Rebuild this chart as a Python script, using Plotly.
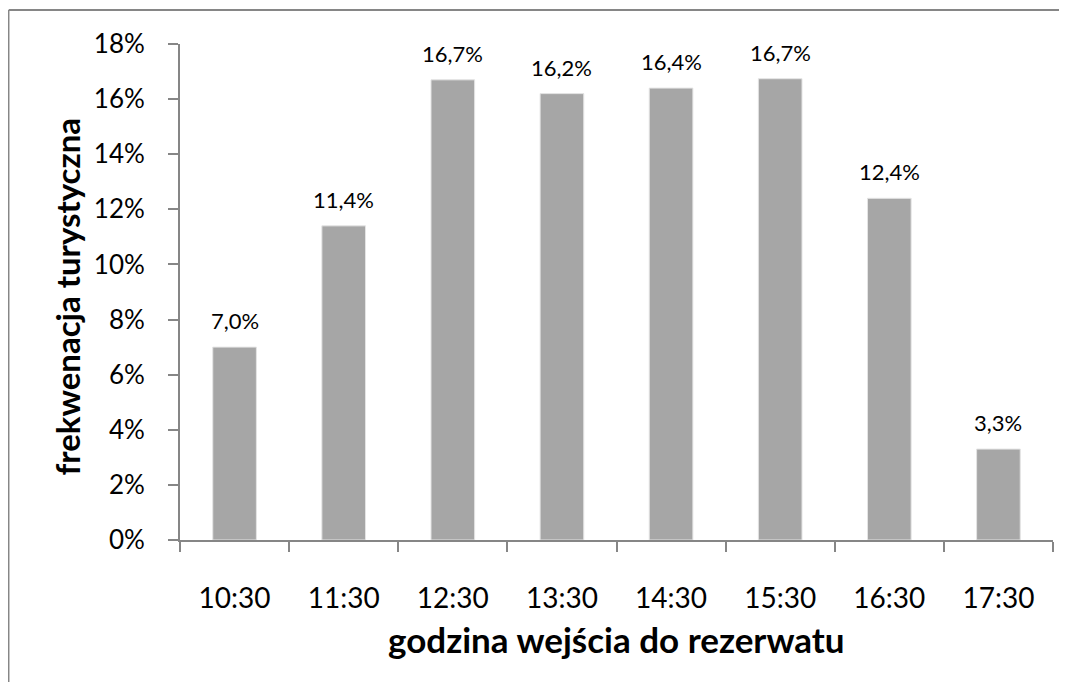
import plotly.graph_objects as go

# Data
godziny = ["10:30", "11:30", "12:30", "13:30", "14:30", "15:30", "16:30", "17:30"]
frekwencja = [7.0, 11.4, 16.7, 16.2, 16.4, 16.74, 12.4, 3.3]
y_ticks = [0, 2, 4, 6, 8, 10, 12, 14, 16, 18]
y_tick_labels = [f"{v}%" for v in y_ticks]
x_title = "godzina wejścia do rezerwatu"
y_title = "frekwenacja turystyczna"

FONT = "Lato, Carlito, Calibri, sans-serif"
AXIS_GRAY = "#868686"

fig = go.Figure()

fig.add_trace(go.Bar(
    x=godziny,
    y=frekwencja,
    width=0.4,
    marker=dict(color="#a6a6a6", line=dict(color="#e4e4e4", width=1)),
    hoverinfo="x+y",
))

# Data labels above the bars
for g, v in zip(godziny, frekwencja):
    fig.add_annotation(
        x=g, y=v, xref="x", yref="y",
        text=f"{v:.1f}".replace(".", ",") + "%",
        showarrow=False, yanchor="bottom", yshift=11,
        font=dict(family=FONT, size=22, color="#000000"),
    )

# Axis titles
fig.add_annotation(
    x=0.5, y=-0.2, xref="paper", yref="paper",
    text=f"<b>{x_title}</b>", showarrow=False,
    xanchor="center", yanchor="middle",
    font=dict(family=FONT, size=35, color="#000000"),
)
fig.add_annotation(
    x=-0.13, y=0.49, xref="paper", yref="paper",
    text=f"<b>{y_title}</b>", showarrow=False, textangle=-90,
    xanchor="center", yanchor="middle",
    font=dict(family=FONT, size=33, color="#000000"),
)

# Chart frame (Excel style, partially cropped)
fig.add_shape(type="line", xref="paper", yref="paper",
              x0=-0.1962, x1=-0.1962, y0=-0.5, y1=1.0685,
              line=dict(color=AXIS_GRAY, width=1.5))
fig.add_shape(type="line", xref="paper", yref="paper",
              x0=-0.1962, x1=1.1, y0=1.0685, y1=1.0685,
              line=dict(color=AXIS_GRAY, width=2))

fig.update_layout(
    width=1059,
    height=674,
    margin=dict(l=172, r=14, t=36, b=142),
    plot_bgcolor="white",
    paper_bgcolor="white",
    showlegend=False,
    bargap=0.6,
    font=dict(family=FONT, color="#000000"),
)

fig.update_xaxes(
    type="category",
    showline=True,
    linecolor=AXIS_GRAY,
    linewidth=2,
    ticks="outside",
    tickson="boundaries",
    ticklen=10,
    tickcolor=AXIS_GRAY,
    tickwidth=2,
    showgrid=False,
    ticklabelstandoff=32,
    tickfont=dict(family=FONT, size=28, color="#000000"),
)

fig.update_yaxes(
    range=[0, 18],
    tickvals=y_ticks,
    ticktext=y_tick_labels,
    showline=True,
    linecolor=AXIS_GRAY,
    linewidth=2,
    ticks="outside",
    ticklen=10,
    tickcolor=AXIS_GRAY,
    tickwidth=2,
    showgrid=False,
    zeroline=False,
    ticklabelstandoff=18,
    tickfont=dict(family=FONT, size=26, color="#000000"),
)

fig.write_html("out.html")
